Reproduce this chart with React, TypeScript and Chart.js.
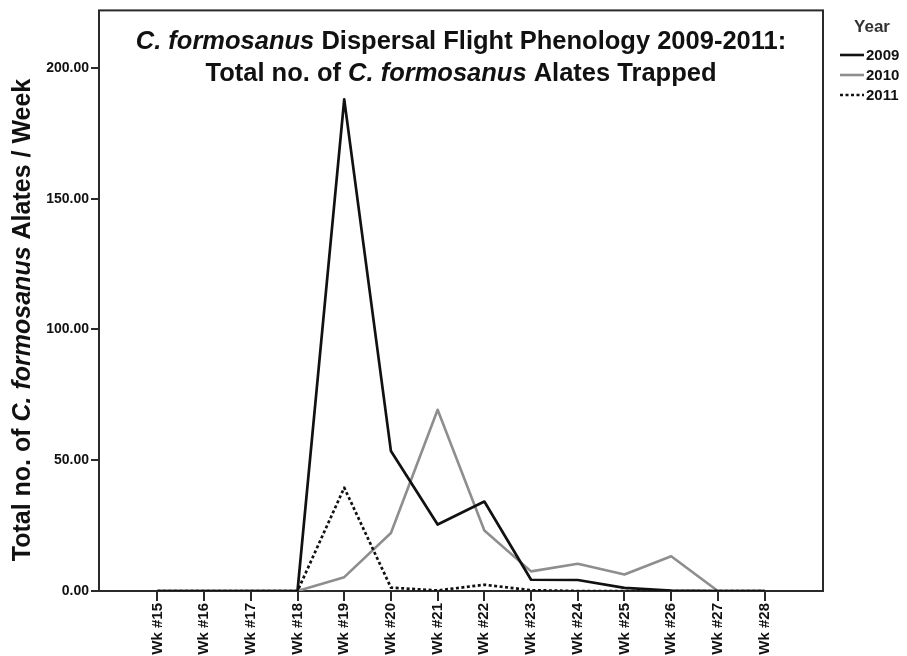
import React, { useEffect, useRef } from 'react';
import { Chart, registerables } from 'chart.js';

Chart.register(...registerables);

const weeks = [15, 16, 17, 18, 19, 20, 21, 22, 23, 24, 25, 26, 27, 28];
const weekLabels = ['Wk #15', 'Wk #16', 'Wk #17', 'Wk #18', 'Wk #19', 'Wk #20', 'Wk #21', 'Wk #22', 'Wk #23', 'Wk #24', 'Wk #25', 'Wk #26', 'Wk #27', 'Wk #28'];
const series2009 = [0, 0, 0, 0, 188, 53.5, 25.4, 34.2, 4.3, 4.2, 1.2, 0.2, 0, 0];
const series2010 = [0, 0, 0, 0, 5.3, 22.2, 69.3, 23.1, 7.5, 10.4, 6.3, 13.3, 0, 0];
const series2011 = [0, 0, 0, 0, 39.5, 1.3, 0.2, 2.4, 0.3, 0, 0, 0, 0, 0];
const yTickValues = [0, 50, 100, 150, 200];
const legendTitle = 'Year';
const legendYears = ['2009', '2010', '2011'];

const FONT = '"Liberation Sans", Arial, sans-serif';
const DARK = '#111111';
const GREY = '#8e8e8e';
const AXIS = '#2a2a2a';

type Seg = { t: string; i: boolean };
const titleLine1: Seg[] = [
  { t: 'C. formosanus', i: true },
  { t: ' Dispersal Flight Phenology 2009-2011:', i: false },
];
const titleLine2: Seg[] = [
  { t: 'Total no. of ', i: false },
  { t: 'C. formosanus', i: true },
  { t: ' Alates Trapped', i: false },
];
const yTitle: Seg[] = [
  { t: 'Total no. of ', i: false },
  { t: 'C. formosanus', i: true },
  { t: ' Alates / Week', i: false },
];

function drawMixed(ctx: CanvasRenderingContext2D, segs: Seg[], cx: number, y: number, size: number) {
  const fontOf = (s: Seg) => `${s.i ? 'italic ' : ''}bold ${size}px ${FONT}`;
  let total = 0;
  const widths = segs.map((s) => {
    ctx.font = fontOf(s);
    const w = ctx.measureText(s.t).width;
    total += w;
    return w;
  });
  let x = cx - total / 2;
  ctx.textAlign = 'left';
  segs.forEach((s, k) => {
    ctx.font = fontOf(s);
    ctx.fillText(s.t, x, y);
    x += widths[k];
  });
}

const decorPlugin = {
  id: 'decor',
  beforeDatasetsDraw(chart: any) {
    const { ctx, chartArea } = chart;
    ctx.save();
    ctx.strokeStyle = AXIS;
    ctx.lineWidth = 2;
    ctx.strokeRect(chartArea.left, chartArea.top, chartArea.right - chartArea.left, chartArea.bottom - chartArea.top);
    ctx.restore();
  },
  afterDraw(chart: any) {
    const { ctx, chartArea } = chart;
    const cx = (chartArea.left + chartArea.right) / 2;
    ctx.save();
    ctx.fillStyle = '#111';
    ctx.textBaseline = 'alphabetic';
    drawMixed(ctx, titleLine1, cx, 49, 25.5);
    drawMixed(ctx, titleLine2, cx, 81, 25.5);

    ctx.save();
    ctx.translate(23, 320);
    ctx.rotate(-Math.PI / 2);
    ctx.textBaseline = 'middle';
    drawMixed(ctx, yTitle, 0, 0, 25);
    ctx.restore();

    // legend
    ctx.textBaseline = 'middle';
    ctx.textAlign = 'center';
    ctx.fillStyle = '#333';
    ctx.font = `bold 17px ${FONT}`;
    ctx.fillText(legendTitle, 872, 27);
    const styles = [
      { c: DARK, d: [] as number[] },
      { c: GREY, d: [] as number[] },
      { c: DARK, d: [3, 2.5] },
    ];
    legendYears.forEach((yr, k) => {
      const y = 55 + k * 20;
      ctx.beginPath();
      ctx.strokeStyle = styles[k].c;
      ctx.lineWidth = 2.6;
      ctx.setLineDash(styles[k].d);
      ctx.moveTo(840, y);
      ctx.lineTo(864, y);
      ctx.stroke();
      ctx.setLineDash([]);
      ctx.fillStyle = '#111';
      ctx.textAlign = 'left';
      ctx.font = `bold 15px ${FONT}`;
      ctx.fillText(yr, 866, y + 1);
    });
    ctx.restore();
  },
};

export default function App() {
  const ref = useRef<HTMLCanvasElement | null>(null);
  useEffect(() => {
    if (!ref.current) return;
    const toPts = (arr: number[]) => arr.map((v, i) => ({ x: weeks[i], y: v }));
    const chart = new Chart(ref.current, {
      type: 'line',
      data: {
        datasets: [
          {
            label: legendYears[2],
            data: toPts(series2011),
            borderColor: DARK,
            borderWidth: 2.7,
            borderDash: [3, 2.5],
            borderJoinStyle: 'round',
            pointRadius: 0,
            tension: 0,
            fill: false,
            order: 0,
          },
          {
            label: legendYears[0],
            data: toPts(series2009),
            borderColor: DARK,
            borderWidth: 2.7,
            borderJoinStyle: 'round',
            pointRadius: 0,
            tension: 0,
            fill: false,
            order: 1,
          },
          {
            label: legendYears[1],
            data: toPts(series2010),
            borderColor: GREY,
            borderWidth: 2.6,
            borderJoinStyle: 'round',
            pointRadius: 0,
            tension: 0,
            fill: false,
            order: 2,
          },
        ],
      },
      options: {
        animation: false,
        responsive: false,
        maintainAspectRatio: false,
        layout: { padding: { left: 0, right: 84, top: 6, bottom: 0 } },
        plugins: { legend: { display: false }, tooltip: { enabled: false }, title: { display: false } },
        scales: {
          x: {
            type: 'linear',
            min: 13.75,
            max: 29.25,
            afterBuildTicks: (scale: any) => {
              scale.ticks = weeks.map((w) => ({ value: w }));
            },
            afterFit: (scale: any) => {
              scale.height = 65;
            },
            grid: { display: true, drawOnChartArea: false, drawTicks: true, tickLength: 10, color: AXIS, lineWidth: 2 },
            border: { display: false },
            ticks: {
              autoSkip: false,
              maxRotation: 90,
              minRotation: 90,
              padding: 2,
              color: '#111',
              font: { family: FONT, size: 15, weight: 'bold' },
              callback: (v: any) => {
                const idx = weeks.indexOf(Number(v));
                return idx >= 0 ? weekLabels[idx] : '';
              },
            },
          },
          y: {
            type: 'linear',
            min: 0,
            max: 222,
            afterBuildTicks: (scale: any) => {
              scale.ticks = yTickValues.map((v) => ({ value: v }));
            },
            afterFit: (scale: any) => {
              scale.width = 99;
            },
            grid: { display: true, drawOnChartArea: false, drawTicks: true, tickLength: 8, color: AXIS, lineWidth: 2 },
            border: { display: false },
            ticks: {
              padding: 2,
              color: '#111',
              font: { family: FONT, size: 14, weight: 'bold' },
              callback: (v: any) => Number(v).toFixed(2),
            },
          },
        },
      },
      plugins: [decorPlugin],
    });
    return () => chart.destroy();
  }, []);
  return (
    <div style={{ position: 'absolute', left: 0, top: 0, width: 907, height: 656, background: '#fff' }}>
      <canvas ref={ref} width={907} height={656} style={{ width: 907, height: 656, display: 'block' }} />
    </div>
  );
}
